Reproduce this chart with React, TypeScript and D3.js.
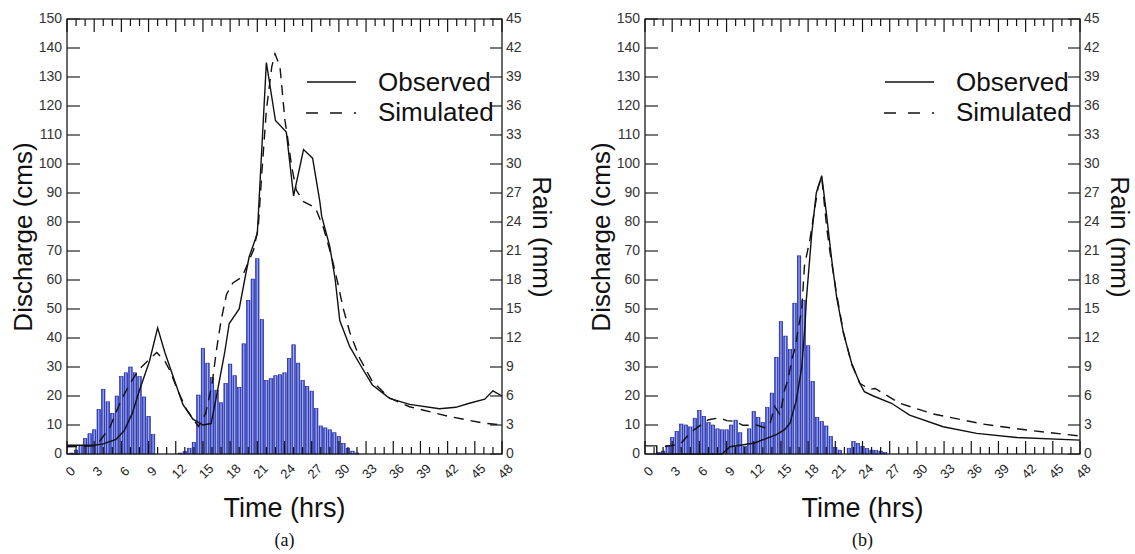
import React from "react";
import * as d3 from "d3";

// rainfall, mm per half hour, starting at t = 0
const RAIN_STEP = 0.5;
const rainA = [
  0, 0.1, 0.4, 0.9, 1.6, 2.1, 2.5, 4.6, 6.7, 5.4, 4.2, 6.0, 8.0, 8.4, 9.0, 8.4, 8.0, 5.9, 3.9, 2.0,
  0, 0, 0, 0, 0, 0.1, 0.25, 0.6, 1.2, 6.1, 10.9, 9.4, 7.9, 6.6, 5.3, 7.3, 9.3, 8.1, 6.9, 11.4,
  15.9, 18.1, 20.2, 13.9, 7.6, 7.8, 8.1, 8.2, 8.4, 9.9, 11.3, 9.4, 7.6, 7.0, 6.5, 4.7, 2.9, 2.7,
  2.5, 2.2, 1.8, 1.1, 0.6, 0.3, 0.1,
];
const rainB = [
  0, 0, 0, 0.17, 0.3, 0.9, 1.7, 2.35, 3.1, 3.0, 2.8, 3.7, 4.5, 3.9, 3.25, 3.0, 2.6, 2.5, 2.5, 3.0,
  3.5, 2.2, 0.8, 2.6, 4.4, 3.8, 3.25, 4.8, 6.3, 10.0, 13.7, 12.2, 10.8, 15.6, 20.5, 15.9, 11.2,
  7.5, 3.8, 3.35, 2.9, 1.8, 0.7, 0.4, 0, 0.6, 1.3, 1.1, 0.8, 0.55, 0.4, 0.35, 0.3, 0.15,
];

// discharge hydrographs [hour, cms]
const observedA: [number, number][] = [
  [0, 3], [3, 3], [4, 3.5], [5.4, 5], [6.3, 8], [7.2, 14], [8, 22], [9.1, 32], [10, 43.5],
  [10.8, 35], [11.9, 25], [12.8, 17], [13.9, 12], [15, 10], [15.9, 10.5], [16.5, 20], [17.4, 35],
  [17.9, 45], [19, 50], [19.6, 60], [20.1, 68], [21, 76], [22, 135], [23, 115], [24.2, 111],
  [25, 89], [26.1, 105], [27.1, 102], [27.9, 87], [28.1, 82], [29, 71.5], [29.6, 60], [30.1, 46],
  [31.2, 37], [32.5, 30], [33.7, 23.8], [35.6, 19.2], [37.8, 17.1], [41.1, 15.6], [42.9, 16.1],
  [44.4, 17.5], [46.1, 18.9], [47, 21.8], [48, 20],
];
const simulatedA: [number, number][] = [
  [0, 2.5], [3, 2.8], [3.6, 4.4], [4.7, 9], [6, 18.8], [7, 24.5], [7.9, 29], [9.2, 33], [9.9, 35],
  [10.8, 32], [11.4, 28.5], [12.2, 22], [13.2, 15.3], [14.5, 9.5], [15.3, 14], [16, 24], [16.5, 36],
  [17, 46], [17.6, 55], [18.3, 59], [19.3, 61], [20, 66], [20.6, 70.5], [21.1, 78], [21.5, 97],
  [22, 118.6], [22.6, 133.6], [22.95, 138], [23.5, 133.5], [24.05, 115], [24.3, 110], [24.8, 99],
  [25.3, 91], [26.1, 87], [27.4, 85], [28.3, 78], [29.2, 68], [29.8, 60], [30.5, 50], [31.2, 42],
  [32.3, 33], [33.7, 25], [35.6, 19.3], [37.8, 16.3], [42.2, 12.9], [45.9, 10.7], [48, 10],
];
const observedB: [number, number][] = [
  [0, 2.8], [1.3, 2.8], [1.3, 0], [8.5, 0], [8.7, 0.6], [9.4, 2.5], [10.5, 3], [12.1, 3.8],
  [13.5, 5.5], [14.5, 6.7], [15.4, 8.4], [16, 10.6], [16.7, 18.6], [17.3, 30], [17.65, 44],
  [17.8, 53], [18.4, 76], [18.9, 90], [19.5, 96], [20.05, 82], [20.6, 67], [21.15, 54],
  [21.9, 41.6], [22.8, 31.3], [23.7, 24.4], [24.2, 21.5], [25.2, 20], [27.2, 17.5], [29.2, 13.4],
  [32.9, 9.4], [36.6, 7.1], [41, 5.7], [48, 4.8],
];
const simulatedB: [number, number][] = [
  [2.2, 2.6], [3.9, 3.4], [5, 7.3], [5.7, 9], [7, 11.8], [8.3, 12.5], [9, 11.5], [9.9, 11.3],
  [10.8, 9.9], [12.4, 9.9], [13.3, 9], [13.8, 10.5], [14.3, 16.4], [14.9, 13.5], [15.4, 22],
  [15.8, 26], [16.2, 32.5], [16.6, 37], [16.9, 43], [17.3, 50], [17.6, 65], [18.2, 74], [18.6, 82],
  [19.1, 92], [19.5, 95.5], [20.05, 78], [20.4, 70], [21.15, 55], [21.9, 42], [22.8, 31],
  [23.7, 24.4], [24.8, 22.3], [25.4, 22.6], [28.1, 17.5], [31.8, 13.8], [37.3, 10.3], [42.8, 8],
  [48, 6.2],
];

const timeTicks = [0, 3, 6, 9, 12, 15, 18, 21, 24, 27, 30, 33, 36, 39, 42, 45, 48];
const dischargeTicks = [0, 10, 20, 30, 40, 50, 60, 70, 80, 90, 100, 110, 120, 130, 140, 150];
const rainTicks = [0, 3, 6, 9, 12, 15, 18, 21, 24, 27, 30, 33, 36, 39, 42, 45];

const W = 1135;
const H = 554;
const box = { left: 67, right: 502, top: 19, bottom: 454 };
const SANS = "'Liberation Sans', Arial, sans-serif";

const x = d3.scaleLinear().domain([0, 48]).range([box.left, box.right]);
const yQ = d3.scaleLinear().domain([0, 150]).range([box.bottom, box.top]);
const yR = d3.scaleLinear().domain([0, 45]).range([box.bottom, box.top]);
const line = d3
  .line<[number, number]>()
  .x((d) => x(d[0]))
  .y((d) => yQ(d[1]));

const Panel = ({ dx, rain, observed, simulated, label }) => {
  const barW = (x(RAIN_STEP) - x(0)) * 0.76;
  const hours = d3.range(0, 49);
  return (
    <g transform={`translate(${dx},0)`}>
      {/* rain bars */}
      {rain.map((v, i) =>
        v > 0 ? (
          <rect
            key={i}
            x={x(i * RAIN_STEP) - barW / 2}
            y={yR(v)}
            width={barW}
            height={box.bottom - yR(v)}
            fill="url(#barGrad)"
            stroke="#1b1f96"
            strokeWidth={0.6}
          />
        ) : null
      )}

      {/* hydrographs */}
      <path d={line(simulated)} fill="none" stroke="#111" strokeWidth={1.4} strokeDasharray="10 7" />
      <path d={line(observed)} fill="none" stroke="#111" strokeWidth={1.4} />

      {/* frame */}
      <rect
        x={box.left}
        y={box.top}
        width={box.right - box.left}
        height={box.bottom - box.top}
        fill="none"
        stroke="#1a1a1a"
        strokeWidth={1.3}
      />

      {/* time ticks top & bottom */}
      {hours.map((h) => {
        const len = h % 3 === 0 ? 13 : 7;
        return (
          <g key={h} stroke="#111" strokeWidth={1.2}>
            <line x1={x(h)} x2={x(h)} y1={box.bottom} y2={box.bottom - len} />
            <line x1={x(h)} x2={x(h)} y1={box.top} y2={box.top + len} />
          </g>
        );
      })}
      {timeTicks.map((t) => (
        <text
          key={t}
          transform={`translate(${x(t) + 4},${box.bottom + 18}) rotate(-45)`}
          textAnchor="middle"
          dominantBaseline="middle"
          fontSize={13}
          fontFamily={SANS}
          fill="#222"
        >
          {t}
        </text>
      ))}

      {/* discharge axis */}
      {dischargeTicks.map((q) => (
        <g key={q}>
          <line x1={box.left} x2={box.left + 13} y1={yQ(q)} y2={yQ(q)} stroke="#222" strokeWidth={1.2} />
          <text
            x={box.left - 5}
            y={yQ(q)}
            textAnchor="end"
            dominantBaseline="middle"
            fontSize={14}
            fontFamily={SANS}
            fill="#333"
          >
            {q}
          </text>
        </g>
      ))}

      {/* rain axis */}
      {rainTicks.map((r) => (
        <g key={r}>
          <line x1={box.right - 12} x2={box.right} y1={yR(r)} y2={yR(r)} stroke="#222" strokeWidth={1.2} />
          <text
            x={box.right + 4}
            y={yR(r)}
            dominantBaseline="middle"
            fontSize={14}
            fontFamily={SANS}
            fill="#333"
          >
            {r}
          </text>
        </g>
      ))}

      {/* axis titles */}
      <text
        transform={`translate(32,237) rotate(-90)`}
        textAnchor="middle"
        fontSize={26}
        fontFamily={SANS}
        fill="#111"
      >
        Discharge (cms)
      </text>
      <text
        transform={`translate(533,237) rotate(90)`}
        textAnchor="middle"
        fontSize={26}
        fontFamily={SANS}
        fill="#111"
      >
        Rain (mm)
      </text>
      <text x={(box.left + box.right) / 2} y={517} textAnchor="middle" fontSize={27} fontFamily={SANS} fill="#111">
        Time (hrs)
      </text>
      <text
        x={(box.left + box.right) / 2}
        y={546}
        textAnchor="middle"
        fontSize={18}
        fontFamily="'Liberation Serif', 'Times New Roman', serif"
        fill="#111"
      >
        {label}
      </text>

      {/* legend */}
      <line x1={307} x2={356} y1={82} y2={82} stroke="#111" strokeWidth={1.4} />
      <text x={378} y={91} fontSize={26} fontFamily={SANS} fill="#111">
        Observed
      </text>
      <line x1={306} x2={356} y1={113} y2={113} stroke="#111" strokeWidth={1.4} strokeDasharray="12 12" />
      <text x={378} y={121} fontSize={26} fontFamily={SANS} fill="#111">
        Simulated
      </text>
    </g>
  );
};

export default function App() {
  return (
    <div style={{ position: "absolute", left: 0, top: 0 }}>
      <svg width={W} height={H} style={{ display: "block", background: "#fff" }}>
        <defs>
          <linearGradient id="barGrad" x1="0" x2="1" y1="0" y2="0">
            <stop offset="0" stopColor="#1f2aa6" />
            <stop offset="0.3" stopColor="#5b6fe0" />
            <stop offset="0.5" stopColor="#aab6f4" />
            <stop offset="0.7" stopColor="#5b6fe0" />
            <stop offset="1" stopColor="#1f2aa6" />
          </linearGradient>
        </defs>
        <Panel dx={0} rain={rainA} observed={observedA} simulated={simulatedA} label="(a)" />
        <Panel dx={578} rain={rainB} observed={observedB} simulated={simulatedB} label="(b)" />
      </svg>
    </div>
  );
}
